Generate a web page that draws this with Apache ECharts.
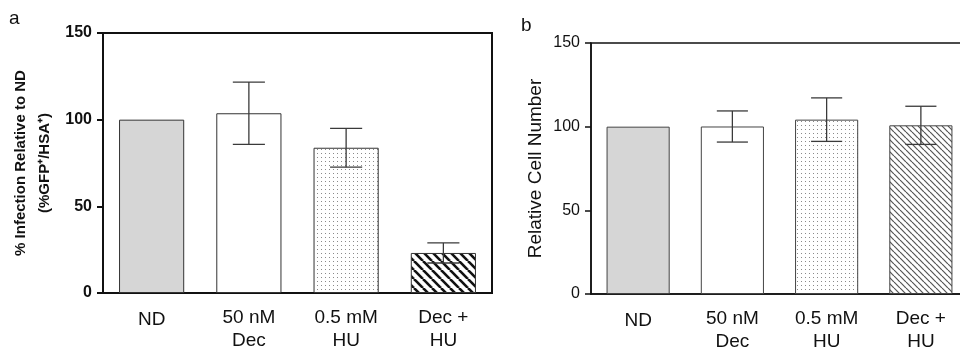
<!DOCTYPE html>
<html>
<head>
<meta charset="utf-8">
<script src="https://cdn.jsdelivr.net/npm/echarts@6/dist/echarts.min.js"></script>
<style>
  html, body { margin: 0; padding: 0; background: #fff; }
  #chart { width: 960px; height: 348px; }
</style>
</head>
<body>
<div id="chart"></div>
<script>
// categories shared by both panels
const categories = ['ND', '50 nM\nDec', '0.5 mM\nHU', 'Dec +\nHU'];

// panel a: % infection relative to ND
const infectionMean = [100, 103.7, 83.8, 23.1];
const infectionSem = [0, 18, 11.2, 5.8];

// panel b: relative cell number
const cellMean = [100, 100.1, 104.2, 100.8];
const cellSem = [0, 9.3, 13, 11.4];

const yMin = 0;
const yMax = 150;
const yStep = 50;

const FONT = "'Liberation Sans', Arial, sans-serif";

// fill patterns
function dotPattern() {
  const c = document.createElement('canvas');
  c.width = 4; c.height = 4;
  const g = c.getContext('2d');
  g.fillStyle = '#fff';
  g.fillRect(0, 0, 4, 4);
  g.fillStyle = '#8a8a8a';
  g.fillRect(1, 1, 1, 1);
  return { image: c, repeat: 'repeat' };
}

function hatchPattern(step, lw, color) {
  const c = document.createElement('canvas');
  c.width = step; c.height = step;
  const g = c.getContext('2d');
  g.fillStyle = '#fff';
  g.fillRect(0, 0, step, step);
  g.strokeStyle = color;
  g.lineWidth = lw;
  for (let k = -1; k <= 1; k++) {
    g.beginPath();
    g.moveTo(k * step, 0);
    g.lineTo(k * step + step, step);
    g.stroke();
  }
  return { image: c, repeat: 'repeat' };
}

function fills(hatch) {
  return ['#d6d6d6', '#ffffff', dotPattern(), hatch];
}

function barData(values, hatch) {
  const f = fills(hatch);
  return values.map((v, i) => ({ value: v, itemStyle: { color: f[i] } }));
}

function errorSeries(idx, mean, sem) {
  return {
    type: 'custom',
    xAxisIndex: idx,
    yAxisIndex: idx,
    z: 5,
    data: mean.map((m, i) => [i, m, sem[i]]),
    renderItem(params, api) {
      const s = api.value(2);
      if (!s) return null;
      const x = api.value(0);
      const m = api.value(1);
      const top = api.coord([x, m + s]);
      const bot = api.coord([x, m - s]);
      const half = api.size([1, 0])[0] * 0.165;
      const style = { stroke: '#3a3a3a', lineWidth: 1.3 };
      return {
        type: 'group',
        children: [
          { type: 'line', shape: { x1: top[0], y1: top[1], x2: bot[0], y2: bot[1] }, style },
          { type: 'line', shape: { x1: top[0] - half, y1: top[1], x2: top[0] + half, y2: top[1] }, style },
          { type: 'line', shape: { x1: bot[0] - half, y1: bot[1], x2: bot[0] + half, y2: bot[1] }, style }
        ]
      };
    }
  };
}

function xAxis(idx, lw) {
  return {
    type: 'category',
    gridIndex: idx,
    data: categories,
    axisLine: { lineStyle: { color: '#111', width: lw } },
    axisTick: { alignWithLabel: true, length: 6, lineStyle: { color: '#111', width: lw } },
    axisLabel: {
      color: '#111',
      fontFamily: FONT,
      fontSize: 19,
      lineHeight: 23,
      margin: 13,
      interval: 0,
      formatter: v => (v === 'ND' ? '{nd|ND}' : v),
      rich: { nd: { fontFamily: FONT, fontSize: 19, lineHeight: 23, padding: [4, 0, 0, 0], color: '#111' } }
    }
  };
}

function yAxis(idx, lw, bold, name, nameGap, nameSize, nameLH) {
  return {
    type: 'value',
    gridIndex: idx,
    min: yMin,
    max: yMax,
    interval: yStep,
    name: name,
    nameLocation: 'middle',
    nameRotate: 90,
    nameGap: nameGap,
    nameTextStyle: {
      color: '#111',
      fontFamily: FONT,
      fontSize: nameSize,
      lineHeight: nameLH,
      fontWeight: bold ? 'bold' : 'normal'
    },
    splitLine: { show: false },
    axisLine: { show: true, lineStyle: { color: '#111', width: lw } },
    axisTick: { show: true, length: 6, lineStyle: { color: '#111', width: lw } },
    axisLabel: {
      color: '#111',
      fontFamily: FONT,
      fontSize: 16,
      fontWeight: bold ? 'bold' : 'normal',
      margin: 11
    }
  };
}

const chart = echarts.init(document.getElementById('chart'), null, { renderer: 'canvas' });

chart.setOption({
  backgroundColor: '#fff',
  animation: false,
  graphic: [
    { type: 'text', left: 9, top: 9, style: { text: 'a', fontFamily: FONT, fontSize: 19, fill: '#111' } },
    { type: 'text', left: 521, top: 16, style: { text: 'b', fontFamily: FONT, fontSize: 19, fill: '#111' } }
  ],
  grid: [
    { left: 103, top: 33, width: 389, height: 260, outerBoundsMode: 'none', show: true, borderColor: '#111', borderWidth: 2, backgroundColor: 'transparent' },
    { left: 591, top: 43, width: 377, height: 251, outerBoundsMode: 'none', show: true, borderColor: '#111', borderWidth: 1.5, backgroundColor: 'transparent' }
  ],
  xAxis: [xAxis(0, 2), xAxis(1, 1.5)],
  yAxis: [
    yAxis(0, 2, true, '% Infection Relative to ND\n(%GFP\u207A/HSA\u207A)', 46, 15, 24),
    yAxis(1, 1.5, false, 'Relative Cell Number', 45, 19, 20)
  ],
  series: [
    {
      type: 'bar',
      xAxisIndex: 0,
      yAxisIndex: 0,
      barWidth: '67%',
      itemStyle: { borderColor: '#333', borderWidth: 1 },
      data: barData(infectionMean, hatchPattern(9, 2.6, '#111'))
    },
    errorSeries(0, infectionMean, infectionSem),
    {
      type: 'bar',
      xAxisIndex: 1,
      yAxisIndex: 1,
      barWidth: '67%',
      itemStyle: { borderColor: '#444', borderWidth: 1 },
      data: barData(cellMean, hatchPattern(6, 1.2, '#555'))
    },
    errorSeries(1, cellMean, cellSem)
  ]
});
</script>
</body>
</html>
